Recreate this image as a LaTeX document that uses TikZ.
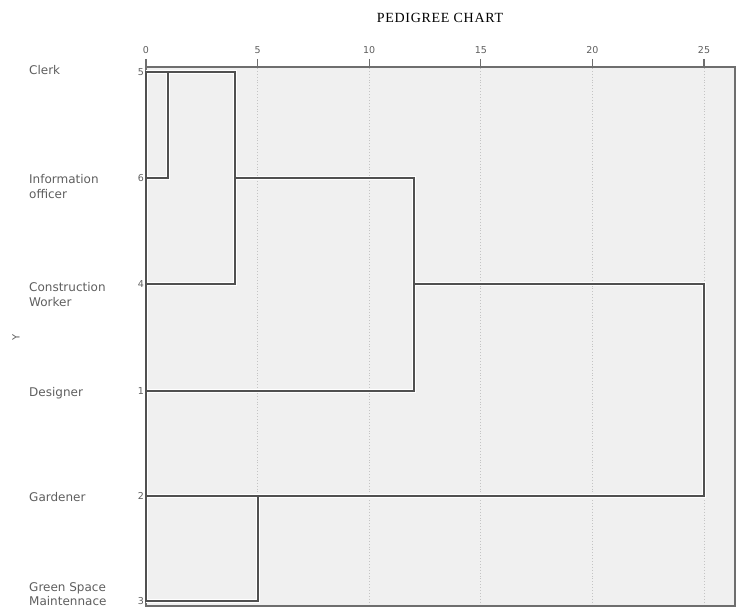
\documentclass[tikz,border=0pt]{standalone}
\usepackage{fontspec}
\setmainfont{DejaVu Sans}
\newfontfamily\titlefont[LetterSpace=5]{Liberation Serif}
\definecolor{bgc}{HTML}{F0F0F0}
\definecolor{txt}{HTML}{5E5E5E}
\definecolor{lnc}{HTML}{505050}
\definecolor{frc}{HTML}{6E6E6E}
\definecolor{grd}{HTML}{C4C4C4}
\begin{document}
\begin{tikzpicture}[x=1pt,y=-1pt,
  lab/.style={anchor=base west,inner sep=0pt,text=txt,font=\fontsize{12}{14}\selectfont},
  num/.style={anchor=east,inner sep=0pt,text=txt,font=\fontsize{9.5}{11}\selectfont},
  tick/.style={anchor=base,inner sep=0pt,text=txt,font=\fontsize{9.5}{11}\selectfont},
  halo/.style={white,line width=4.2pt},
  link/.style={lnc,line width=2pt,line cap=rect},
  gridl/.style={grd,line width=0.9pt,dotted}]
\useasboundingbox (0,0) rectangle (736,607);
% plot area
\fill[bgc] (146,67) rectangle (735,606);
% grid
\foreach \v in {5,10,15,20,25}{
  \draw[gridl] ({146+22.32*\v},68) -- ({146+22.32*\v},605);
}
% frame
\draw[frc,line width=1.3pt] (146,67) rectangle (735,606);
% ticks and labels
\foreach \v in {0,5,10,15,20,25}{
  \draw[frc,line width=1.3pt] ({146+22.32*\v},59) -- ({146+22.32*\v},67);
  \node[tick] (t\v) at ({146+22.32*\v},54) {\v};
}
% title
\node[inner sep=0pt,font=\titlefont\fontsize{14}{16}\selectfont] (title) at (440,18) {PEDIGREE CHART};
% row coordinates
\coordinate (r5) at (146,72);
\coordinate (r6) at (146,178);
\coordinate (r4) at (146,284);
\coordinate (r1) at (146,391);
\coordinate (r2) at (146,496);
\coordinate (r3) at (146,601);
% cluster coordinates
\coordinate (c1a) at (168.3,72);
\coordinate (c1b) at (168.3,178);
\coordinate (c2a) at (235.3,72);
\coordinate (c2b) at (235.3,284);
\coordinate (c3a) at (413.8,178);
\coordinate (c3b) at (413.8,391);
\coordinate (c4a) at (704,284);
\coordinate (c4b) at (704,496);
\coordinate (c5a) at (257.6,496);
\coordinate (c5b) at (257.6,601);
% dendrogram
\foreach \s in {halo,link}{
  \draw[\s] (r6) -- (c1b) -- (c1a);
  \draw[\s] (r5) -- (c2a) -- (c2b) -- (r4);
  \draw[\s] (c2a |- r6) -- (c3a) -- (c3b) -- (r1);
  \draw[\s] (c3a |- r4) -- (c4a) -- (c4b) -- (r2);
  \draw[\s] (c5a) -- (c5b) -- (r3);
  \draw[\s] (r5) -- (r3);
}
% row numbers
\node[num] (n5) at (144,72) {5};
\node[num] (n6) at (144,178) {6};
\node[num] (n4) at (144,284) {4};
\node[num] (n1) at (144,391) {1};
\node[num] (n2) at (144,496) {2};
\node[num] (n3) at (144,601) {3};
% labels
\node[lab] (l5) at (29,75) {Clerk};
\node[lab] (l6a) at (29,183) {Information};
\node[lab] (l6b) at (29,198) {officer};
\node[lab] (l4a) at (29,291) {Construction};
\node[lab] (l4b) at (29,306) {Worker};
\node[lab] (l1) at (29,396) {Designer};
\node[lab] (l2) at (29,501) {Gardener};
\node[lab] (l3a) at (29,591) {Green Space};
\node[lab] (l3b) at (29,605.5) {Maintennace};
\node[inner sep=0pt,text=txt,rotate=90,font=\fontsize{10}{12}\selectfont] (ylab) at (16,337) {Y};
\end{tikzpicture}
\end{document}
